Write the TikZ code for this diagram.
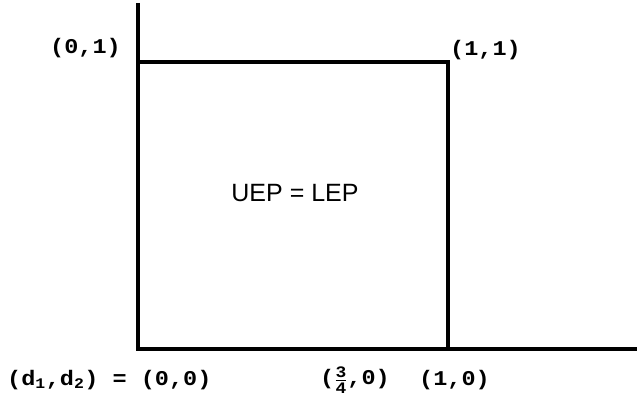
\documentclass[tikz,border=0pt]{standalone}
\usepackage{fontspec}
\setmainfont{Liberation Sans}
\newfontfamily\coordfont[FakeStretch=1.12]{Liberation Mono}
\usetikzlibrary{positioning}

\begin{document}
\begin{tikzpicture}[x=1pt, y=-1pt]
    \tikzstyle{axis} = [line width=3.2pt]
    \tikzstyle{corner} = [inner sep=0pt, font=\coordfont\bfseries\fontsize{21}{21}\selectfont]
    \tikzstyle{region} = [inner sep=0pt, font=\fontsize{25}{25}\selectfont]

    \useasboundingbox (0,0) rectangle (637,403);

    % axes and the unit square
    \coordinate (origin) at (138,349);
    \coordinate (ytop) at (138,3);
    \coordinate (xend) at (637,349);
    \coordinate (c01) at (138,62);
    \coordinate (c11) at (448,62);
    \coordinate (c10) at (448,349);

    \draw [axis] (ytop) -- (origin) -- (xend);
    \draw [axis] (c01) -- (c11) -- (c10);

    \node [region] (eq) at (295,193) {UEP = LEP};

    % corner labels
    \node [corner, anchor=east] (l01) at (121,48) {(0,1)};
    \node [corner, anchor=west] (l11) at (450,50) {(1,1)};
    \node [corner, anchor=west] (l00) at (7,380) {(d\textsubscript{1},d\textsubscript{2}) = (0,0)};
    \node [corner, anchor=west] (l34) at (320,380) {(\raisebox{-0.05em}{$\frac{\mbox{\coordfont\bfseries\fontsize{16}{16}\selectfont 3}}{\mbox{\coordfont\bfseries\fontsize{16}{16}\selectfont 4}}$},0)};
    \node [corner, anchor=west] (l10) at (419,380) {(1,0)};
\end{tikzpicture}
\end{document}
